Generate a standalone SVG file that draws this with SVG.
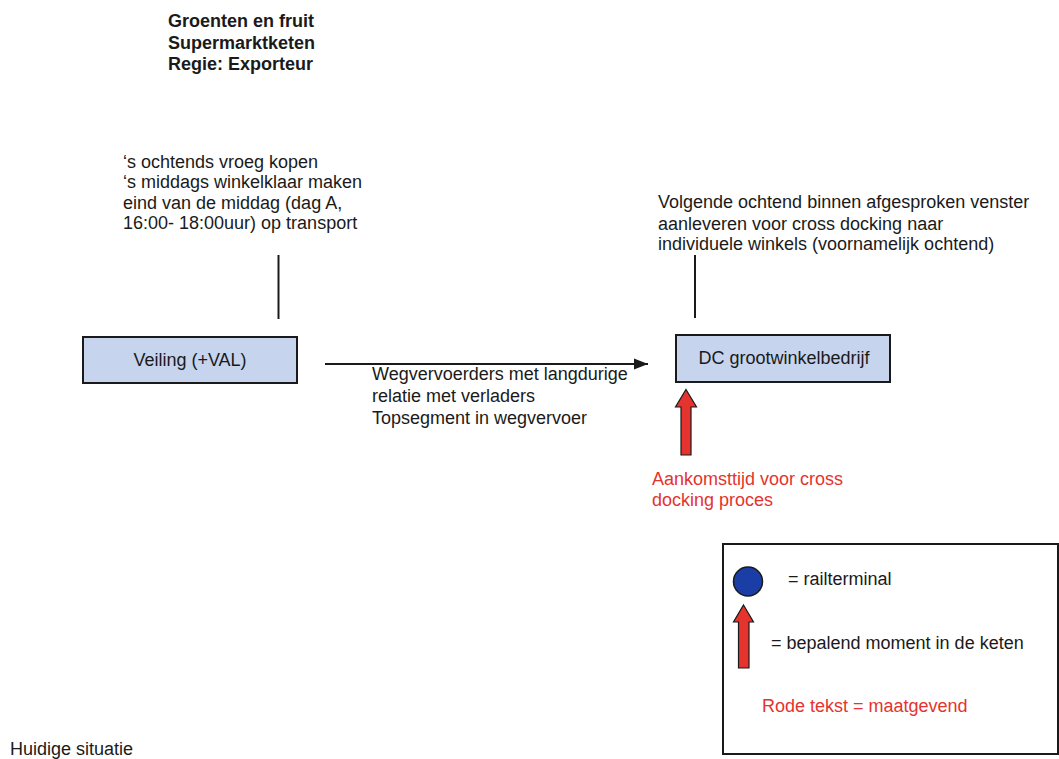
<svg xmlns="http://www.w3.org/2000/svg" width="1059" height="759" viewBox="0 0 1059 759">
<style>
text{font-family:"Liberation Sans",Arial,sans-serif;font-size:18px;fill:#1a1a1a}
.b{font-weight:bold}
.r{fill:#e5332e}
.box{fill:#c6d4ee;stroke:#1a1a1a;stroke-width:2}
.ln{stroke:#1a1a1a;stroke-width:2;fill:none}
.ra{fill:#e5332e;stroke:#1a1a1a;stroke-width:1.2}
</style>
<defs>
<marker id="ah" viewBox="0 0 10 8" refX="10" refY="4" markerWidth="7" markerHeight="5.6" markerUnits="strokeWidth" orient="auto">
<path d="M0,0 L10,4 L0,8 Z" fill="#1a1a1a"/>
</marker>
</defs>
<rect width="1059" height="759" fill="#ffffff"/>
<g id="title">
<text class="b" x="168" y="27">Groenten en fruit</text>
<text class="b" x="168" y="48.5">Supermarktketen</text>
<text class="b" x="168" y="70">Regie: Exporteur</text>
</g>
<g id="note-veiling">
<text x="123" y="168">‘s ochtends vroeg kopen</text>
<text x="123" y="188">‘s middags winkelklaar maken</text>
<text x="123" y="208.5">eind van de middag (dag A,</text>
<text x="123" y="228.5">16:00- 18:00uur) op transport</text>
</g>
<g id="note-dc">
<text x="658" y="208">Volgende ochtend binnen afgesproken venster</text>
<text x="658" y="229.5">aanleveren voor cross docking naar</text>
<text x="658" y="250">individuele winkels (voornamelijk ochtend)</text>
</g>
<g id="veiling">
<rect class="box" x="83" y="337" width="214" height="46"/>
<text x="190" y="366" text-anchor="middle">Veiling (+VAL)</text>
</g>
<g id="dc">
<rect class="box" x="676" y="335" width="214" height="47"/>
<text x="784" y="364" text-anchor="middle">DC grootwinkelbedrijf</text>
</g>
<g id="connectors">
<line class="ln" x1="278.5" y1="255" x2="278.5" y2="319"/>
<line class="ln" x1="695" y1="255" x2="695" y2="318"/>
<line class="ln" x1="325" y1="364" x2="648" y2="364" marker-end="url(#ah)"/>
</g>
<g id="transport-label">
<text x="372" y="380">Wegvervoerders met langdurige</text>
<text x="372" y="402">relatie met verladers</text>
<text x="372" y="423.5">Topsegment in wegvervoer</text>
</g>
<g id="moment-dc">
<path class="ra" d="M686,389.5 L696.5,407 L691,407 L691,455 L681,455 L681,407 L675.5,407 Z"/>
<text class="r" x="652" y="485">Aankomsttijd voor cross</text>
<text class="r" x="652" y="506">docking proces</text>
</g>
<g id="legend">
<rect x="723" y="544" width="335" height="210" fill="none" stroke="#1a1a1a" stroke-width="2"/>
<circle cx="748" cy="581.5" r="14.5" fill="#1b3ea6" stroke="#1a1a1a" stroke-width="1.5"/>
<text x="788" y="585">= railterminal</text>
<path class="ra" d="M743.5,605 L753.5,622 L749,622 L749,668 L738.5,668 L738.5,622 L733.5,622 Z"/>
<text x="771" y="648.5">= bepalend moment in de keten</text>
<text class="r" x="762" y="711.5">Rode tekst = maatgevend</text>
</g>
<g id="footer">
<text x="10" y="755">Huidige situatie</text>
</g>
</svg>
